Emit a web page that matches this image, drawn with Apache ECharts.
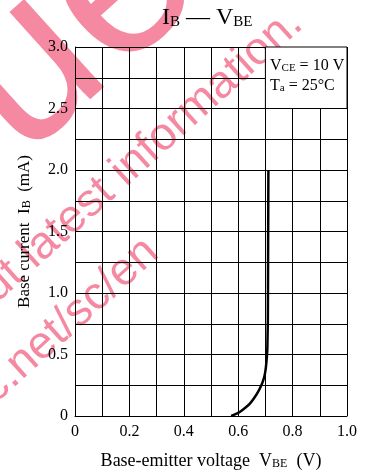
<!DOCTYPE html>
<html><head><meta charset="utf-8">
<script src="https://cdn.jsdelivr.net/npm/echarts@6/dist/echarts.min.js"></script>
<style>html,body{margin:0;padding:0;background:#fff}#c{width:371px;height:471px}</style>
</head><body><div id="c"></div>
<script>
// I_B – V_BE curve (V, mA)
const vbe = [0.574, 0.590, 0.607, 0.625, 0.643, 0.660, 0.674, 0.685, 0.692, 0.698, 0.702, 0.705, 0.707, 0.708, 0.709, 0.710, 0.711];
const ib  = [0.000, 0.015, 0.035, 0.065, 0.100, 0.150, 0.200, 0.250, 0.290, 0.340, 0.400, 0.470, 0.540, 0.650, 0.780, 1.400, 2.000];
const xTickValues = [0, 0.2, 0.4, 0.6, 0.8, 1.0];
const xTickLabels = ['0', '0.2', '0.4', '0.6', '0.8', '1.0'];
const yTickValues = [0, 0.5, 1.0, 1.5, 2.0, 2.5, 3.0];
const yTickLabels = ['0', '0.5', '1.0', '1.5', '2.0', '2.5', '3.0'];
const legendBox = [[0.7, 2.5], [1.0, 3.0]];

const serif = '"Liberation Serif","Times New Roman",serif';
const sans = '"Liberation Sans",Arial,sans-serif';
function labeler(values, labels) {
  return function (v) {
    for (let i = 0; i < values.length; i++) if (Math.abs(v - values[i]) < 1e-6) return labels[i];
    return '';
  };
}
const rich = (n, s) => ({
  n: { fontFamily: serif, fontSize: n, color: '#000', lineHeight: n, verticalAlign: 'bottom' },
  s: { fontFamily: serif, fontSize: s, color: '#000', lineHeight: s * 0.55, verticalAlign: 'bottom' }
});
const wm = 'rgba(235,20,70,0.5)';
const rot = 42 * Math.PI / 180;
const chart = echarts.init(document.getElementById('c'));
chart.setOption({
  animation: false,
  backgroundColor: '#fff',
  grid: { left: 75, right: 24, top: 47, bottom: 55, outerBoundsMode: 'none', containLabel: false },
  graphic: {
    elements: [
      { type: 'text', z: -10, x: 56, y: 198, rotation: rot,
        style: { text: 'ue', font: '225px ' + sans, fill: wm, textAlign: 'left', textVerticalAlign: 'bottom' } },
      { type: 'text', z: -10, x: 296, y: 17, rotation: rot,
        style: { text: 'about latest information.', font: '46px ' + sans, fill: wm, textAlign: 'right', textVerticalAlign: 'middle' } },
      { type: 'text', z: -10, x: 152, y: 246, rotation: rot,
        style: { text: 'www.c.net/sc/en', font: '46px ' + sans, fill: wm, textAlign: 'right', textVerticalAlign: 'middle' } },
      { type: 'text', z: 10, left: 162, top: 6,
        style: { rich: rich(24, 15), text: '{n|I}{s|B}{n| — V}{s|BE}' } },
      { type: 'text', z: 10, left: 270, top: 58,
        style: { rich: rich(16, 11), text: '{n|V}{s|CE}{n| = 10 V}' } },
      { type: 'text', z: 10, left: 270, top: 78,
        style: { rich: rich(16, 11), text: '{n|T}{s|a}{n| = 25°C}' } }
    ]
  },
  xAxis: {
    type: 'value', min: 0, max: 1.0, interval: 0.1,
    name: '{n|Base-emitter voltage  V}{s|BE}{n|  (V)}',
    nameLocation: 'middle', nameGap: 36,
    nameTextStyle: { rich: rich(18, 12) },
    axisLine: { show: true, onZero: false, lineStyle: { color: '#000', width: 1 } },
    axisTick: { show: false },
    axisLabel: { formatter: labeler(xTickValues, xTickLabels), fontFamily: serif, fontSize: 16, color: '#000', margin: 8 },
    splitLine: { show: true, lineStyle: { color: '#000', width: 1 } }
  },
  yAxis: {
    type: 'value', min: 0, max: 3.0, interval: 0.25,
    name: '{n|Base current  I}{s|B}{n|  (mA)}',
    nameLocation: 'middle', nameGap: 42, nameRotate: 90,
    nameTextStyle: { rich: rich(17, 12) },
    axisLine: { show: true, onZero: false, lineStyle: { color: '#000', width: 1 } },
    axisTick: { show: false },
    axisLabel: { formatter: labeler(yTickValues, yTickLabels), fontFamily: serif, fontSize: 16, color: '#000', margin: 7 },
    splitLine: { show: true, lineStyle: { color: '#000', width: 1 } }
  },
  series: [{
    type: 'line',
    data: vbe.map((v, i) => [v, ib[i]]),
    showSymbol: false, symbol: 'none', smooth: 0.3,
    lineStyle: { color: '#000', width: 2.5 },
    markArea: {
      silent: true,
      itemStyle: { color: '#fff', borderColor: '#000', borderWidth: 1 },
      data: [[{ coord: legendBox[0] }, { coord: legendBox[1] }]]
    }
  }]
});
</script></body></html>
